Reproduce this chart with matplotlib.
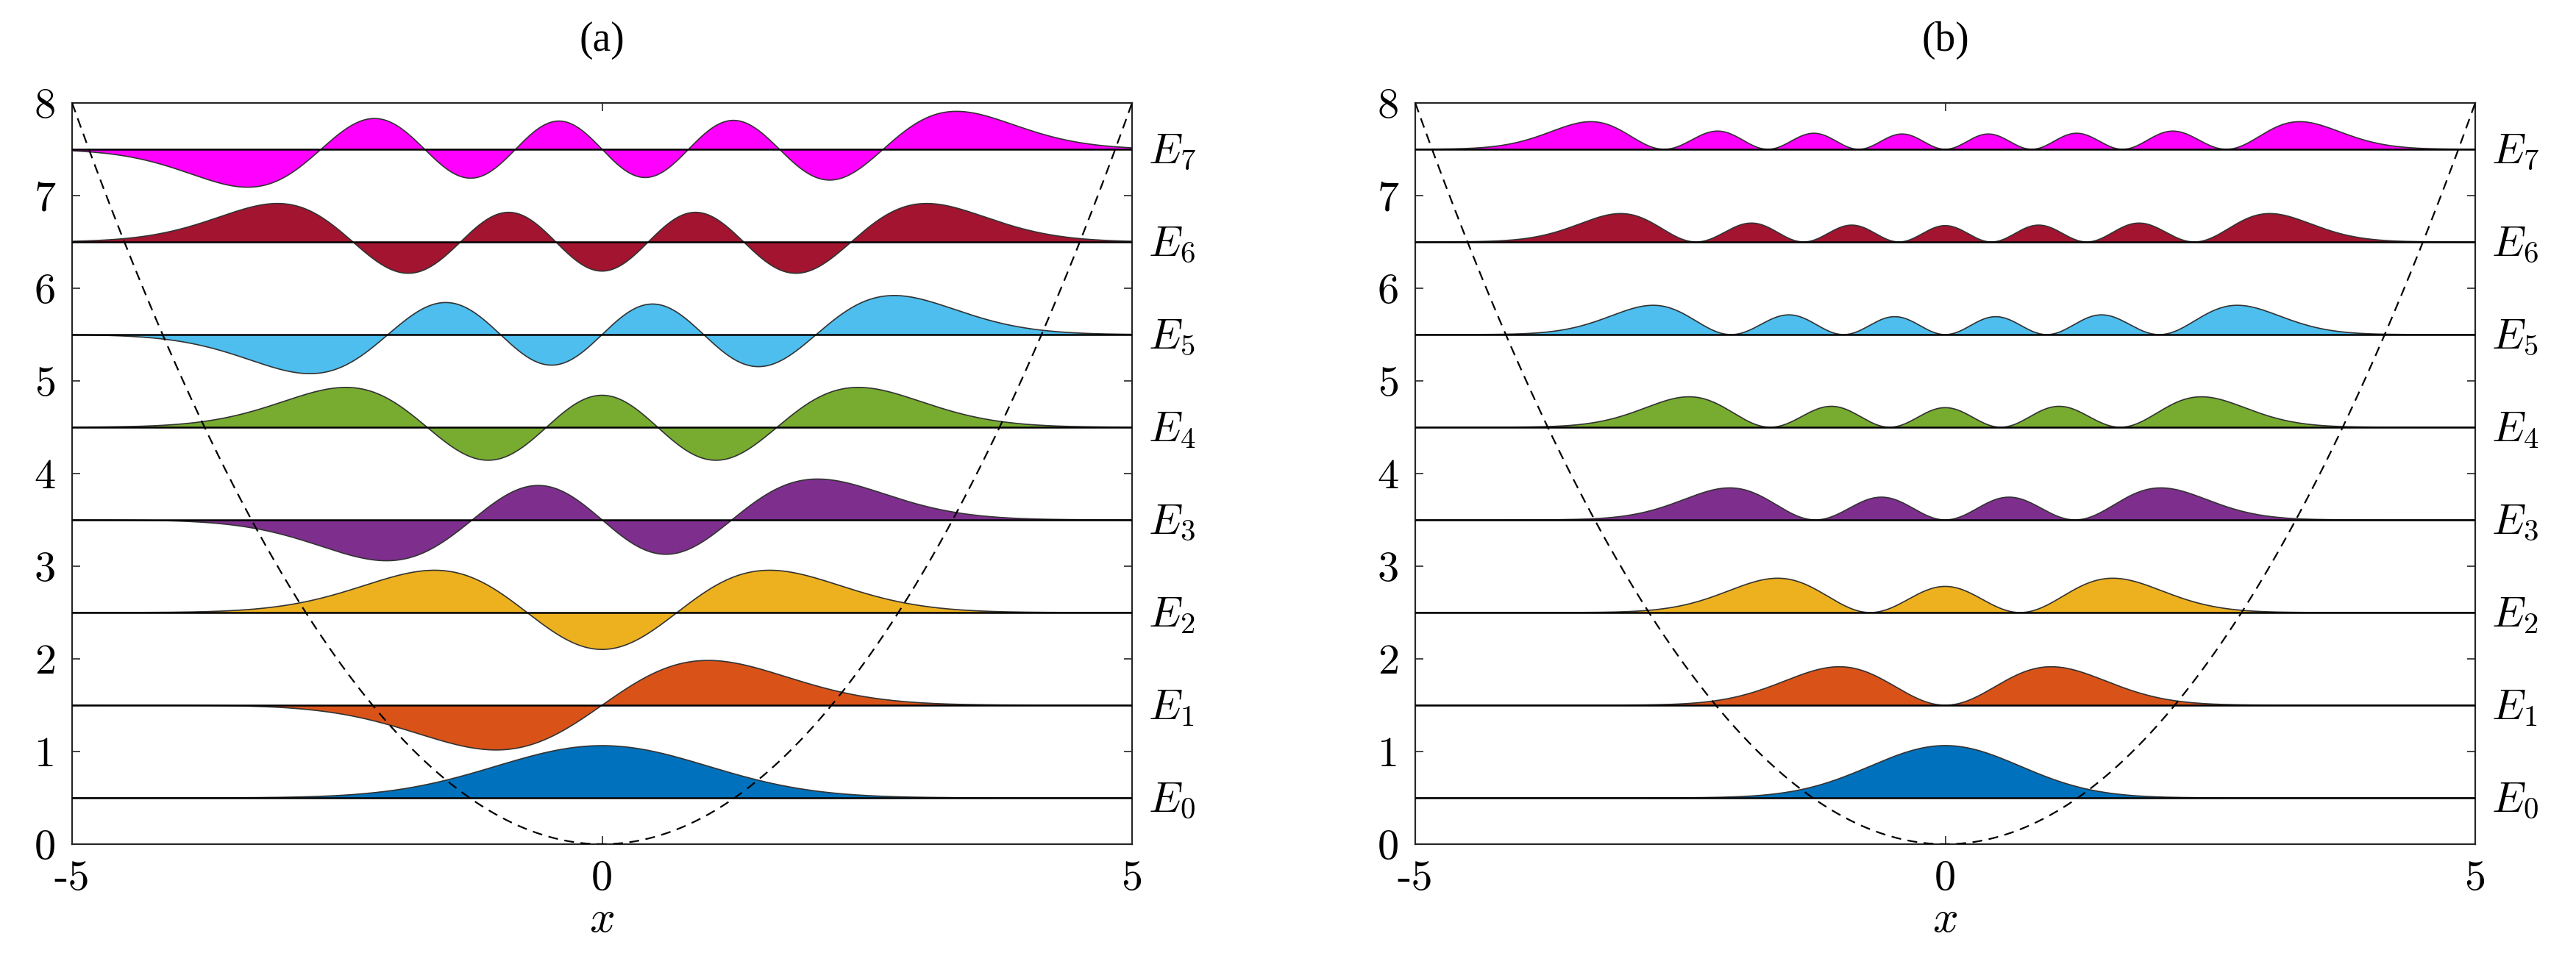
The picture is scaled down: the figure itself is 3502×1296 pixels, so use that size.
from math import factorial

import numpy as np
import matplotlib
matplotlib.use("Agg")
import matplotlib.pyplot as plt

# levels and styling data
levels = [0, 1, 2, 3, 4, 5, 6, 7]
energies = [0.5, 1.5, 2.5, 3.5, 4.5, 5.5, 6.5, 7.5]
level_colors = ["#0072BD", "#D95319", "#EDB120", "#7E2F8E",
                "#77AC30", "#4DBEEE", "#A2142F", "#FF00FF"]
panel_titles = ["(a)", "(b)"]
panel_scale = [0.75, 1.0]        # psi scale in (a), |psi|^2 in (b)
x_ticks = [-5, 0, 5]
y_ticks = [0, 1, 2, 3, 4, 5, 6, 7, 8]
pot_coef = 0.32                  # dashed potential curve, V = 0.32 x^2

plt.rcParams['mathtext.fontset'] = 'cm'
axis_col = "#262626"


def wavefunc(n, x):
    # normalized oscillator eigenfunction, Hermite by recursion
    h0 = np.ones_like(x)
    h = h0
    if n > 0:
        h1 = 2 * x
        for k in range(1, n):
            h0, h1 = h1, 2 * x * h1 - 2 * k * h0
        h = h1
    norm = 1.0 / np.sqrt(2.0**n * factorial(n) * np.sqrt(np.pi))
    return norm * h * np.exp(-x**2 / 2)


fig = plt.figure(figsize=(17.51, 6.48), dpi=200)
lefts = [98 / 3502, 1924 / 3502]
x = np.linspace(-5, 5, 1200)

for p in range(2):
    ax = fig.add_axes([lefts[p], 1 - 1148 / 1296, 1441 / 3502, 1008 / 1296])
    for n, E, c in zip(levels, energies, level_colors):
        f = wavefunc(n, x)
        if p == 0:
            y = E + panel_scale[p] * f
        else:
            y = E + panel_scale[p] * f**2
        ax.fill_between(x, E, y, facecolor=c, edgecolor="none", zorder=2)
        ax.plot(x, y, color="#333333", lw=0.6, zorder=3)
        ax.axhline(E, color="black", lw=0.9, zorder=4)
        ax.text(5.15, E - 0.02, r"$E_{%d}$" % n, fontsize=21,
                ha="left", va="center", clip_on=False)
    ax.plot(x, pot_coef * x**2, color="black", lw=0.8,
            ls=(0, (6, 4)), zorder=5)
    ax.set_xlim(-5, 5)
    ax.set_ylim(0, 8)
    ax.set_xticks(x_ticks)
    ax.set_xticklabels([str(t) for t in x_ticks], fontfamily="cmr10", fontsize=21)
    ax.set_yticks(y_ticks)
    ax.set_yticklabels([str(t) for t in y_ticks], fontfamily="cmr10", fontsize=21)
    ax.tick_params(direction="in", top=True, right=True, length=4,
                   width=0.6, color=axis_col, pad=8)
    for s in ax.spines.values():
        s.set_color(axis_col)
        s.set_linewidth(0.8)
    ax.set_xlabel(r"$x$", fontsize=22, labelpad=0)
    fig.text(lefts[p] + 1441 / 3502 / 2, 1 - 55 / 1296, panel_titles[p],
             ha="center", va="center", fontsize=20, family="Liberation Serif")

fig.savefig("out.png", dpi=200)
